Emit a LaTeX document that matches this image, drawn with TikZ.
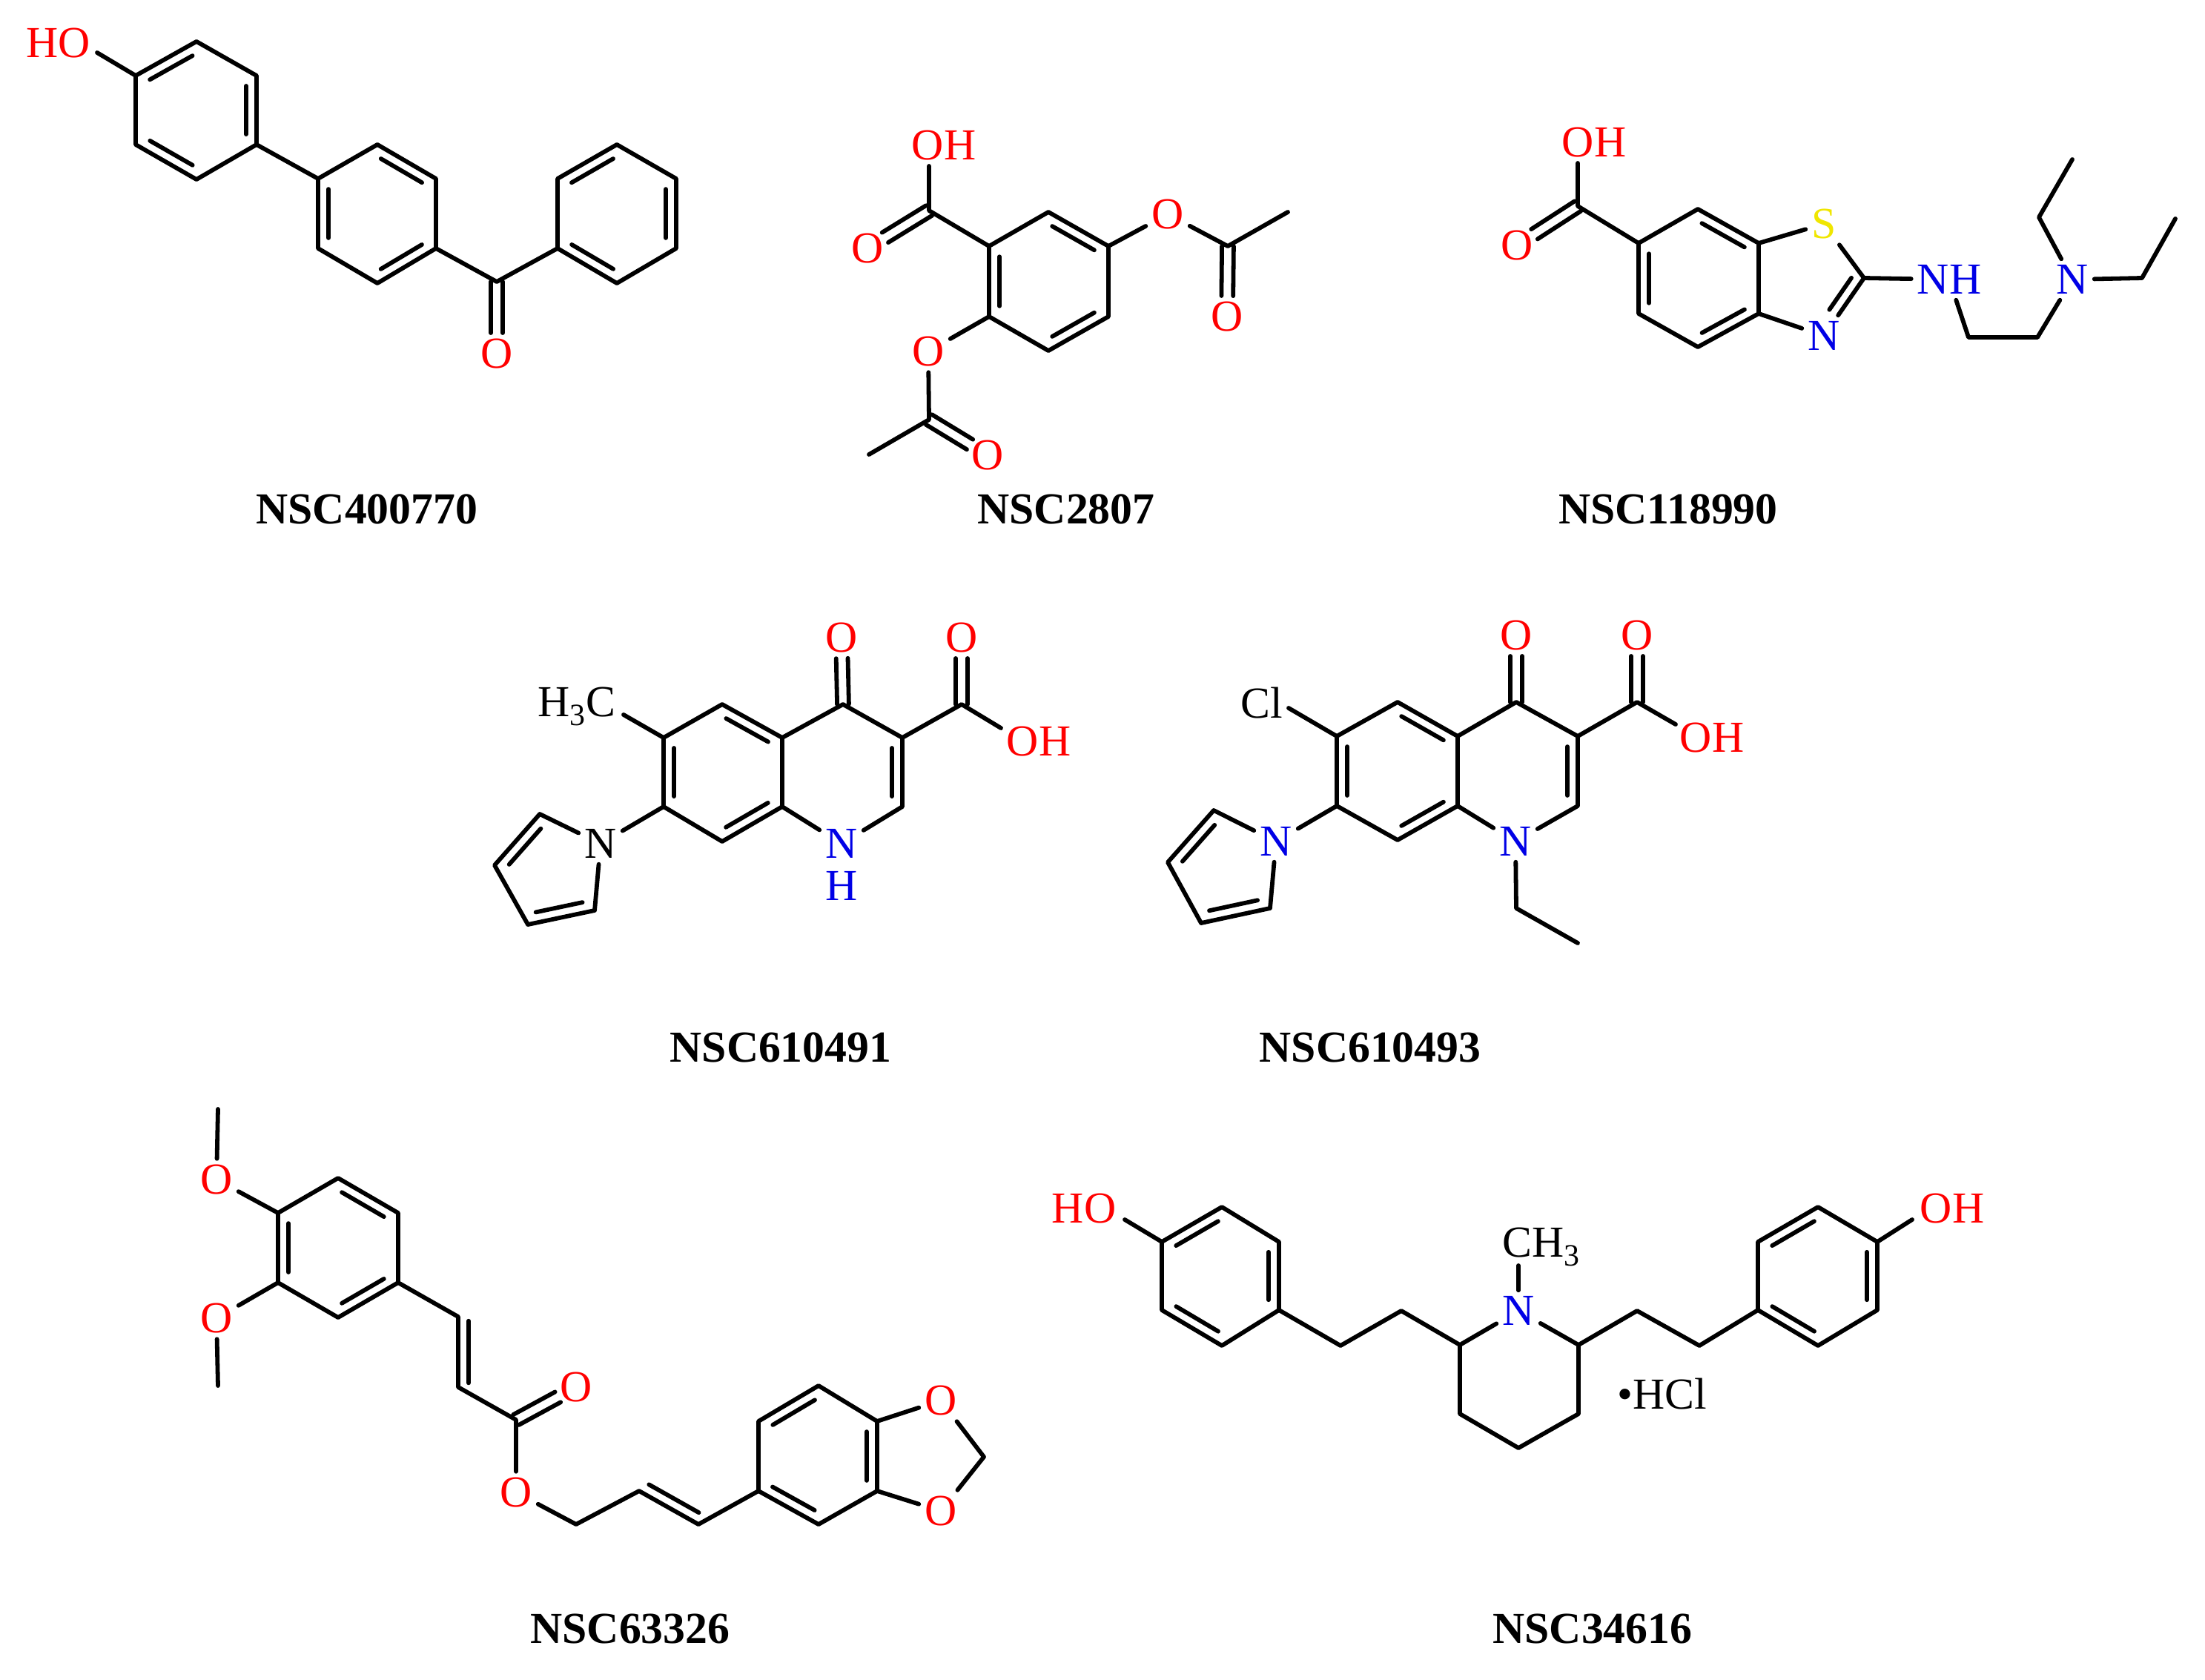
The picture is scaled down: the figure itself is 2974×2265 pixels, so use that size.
\documentclass[tikz,border=0pt]{standalone}
\usepackage{fontspec}
\setmainfont{Liberation Serif}
\usetikzlibrary{calc}
\definecolor{ored}{RGB}{255,0,0}
\definecolor{nblue}{RGB}{0,0,230}
\definecolor{syel}{RGB}{240,230,0}
\newcommand\rdb[3][-8pt]{\draw ($(#2)!0.15!(#3)!#1!90:(#3)$) -- ($(#3)!0.15!(#2)!#1!-90:(#2)$);}
\newcommand\rdbf[5]{\draw ($(#1)!#3!(#2)!#5!90:(#2)$) -- ($(#2)!#4!(#1)!#5!-90:(#1)$);}
\newcommand\cdo[2]{\draw[shorten >=0.56cm] ($(#1)!4.5pt!90:(#2)$) -- ($(#2)!4.5pt!-90:(#1)$); \draw[shorten >=0.56cm] ($(#1)!4.5pt!-90:(#2)$) -- ($(#2)!4.5pt!90:(#1)$);}
\begin{document}
\begin{tikzpicture}[x=0.02cm,y=-0.02cm,line width=3.3pt,line cap=round,line join=round,
 atom/.style={inner sep=3pt,font=\fontsize{34}{40}\selectfont},
 ox/.style={atom,text=ored}, nx/.style={atom,text=nblue},
 title/.style={font=\fontsize{34}{40}\selectfont\bfseries}]
\useasboundingbox (0,0) rectangle (2974,2265);
% ---------- NSC400770
\node[ox] (m1ho) at (79,58) {HO};
\coordinate (m1hoe) at (131,71);
\coordinate (a1) at (183,102); \coordinate (a2) at (265,56); \coordinate (a3) at (346,102);
\coordinate (a4) at (346,195); \coordinate (a5) at (265,242); \coordinate (a6) at (183,195);
\coordinate (b1) at (429,241); \coordinate (b2) at (509,195); \coordinate (b3) at (588,241);
\coordinate (b4) at (588,335); \coordinate (b5) at (509,382); \coordinate (b6) at (429,335);
\coordinate (c1) at (752,241); \coordinate (c2) at (832,195); \coordinate (c3) at (912,241);
\coordinate (c4) at (912,335); \coordinate (c5) at (832,382); \coordinate (c6) at (752,335);
\coordinate (k) at (670,380);
\node[ox] (m1o) at (670,477) {O};
\draw (m1hoe) -- (a1);
\draw (a1) -- (a2) -- (a3) -- (a4) -- (a5) -- (a6) -- cycle;
\draw (b1) -- (b2) -- (b3) -- (b4) -- (b5) -- (b6) -- cycle;
\draw (c1) -- (c2) -- (c3) -- (c4) -- (c5) -- (c6) -- cycle;
\draw (a4) -- (b1); \draw (b4) -- (k) -- (c6);
\rdb{a1}{a2} \rdb{a3}{a4} \rdb{a5}{a6}
\rdb{b2}{b3} \rdb{b4}{b5} \rdb{b6}{b1}
\rdb{c1}{c2} \rdb{c3}{c4} \rdb{c5}{c6}
\cdo{k}{m1o}
\node[title] (t1) at (495,687) {NSC400770};
% ---------- NSC2807
\node[ox] (m2oh) at (1273,196) {OH};
\coordinate (m2ohe) at (1253,224);
\coordinate (m2c) at (1253,284);
\node[ox] (m2o1) at (1170,335) {O};
\coordinate (r1) at (1334,332); \coordinate (r2) at (1414,286); \coordinate (r3) at (1495,332);
\coordinate (r4) at (1495,427); \coordinate (r5) at (1414,473); \coordinate (r6) at (1334,427);
\node[ox] (m2o2) at (1575,289) {O};
\coordinate (m2a) at (1656,332); \coordinate (m2m) at (1737,286);
\node[ox] (m2o3) at (1655,427) {O};
\node[ox] (m2o4) at (1252,474) {O};
\coordinate (m2b) at (1253,566); \coordinate (m2n) at (1172,613);
\node[ox] (m2o5) at (1332,614) {O};
\draw (r1) -- (r2) -- (r3) -- (r4) -- (r5) -- (r6) -- cycle;
\rdb{r2}{r3} \rdb{r4}{r5} \rdb{r6}{r1}
\draw (r1) -- (m2c) -- (m2ohe);
\cdo{m2c}{m2o1}
\draw (r3) -- (m2o2) -- (m2a) -- (m2m);
\cdo{m2a}{m2o3}
\draw (r6) -- (m2o4) -- (m2b) -- (m2n);
\cdo{m2b}{m2o5}
\node[title] (t2) at (1438,687) {NSC2807};
% ---------- NSC118990
\node[ox] (m3oh) at (2150,192) {OH};
\coordinate (m3ohe) at (2128,220);
\coordinate (m3c) at (2128,278);
\node[ox] (m3o1) at (2046,331) {O};
\coordinate (s1) at (2210,328); \coordinate (s2) at (2290,282); \coordinate (s3) at (2372,328);
\coordinate (s4) at (2372,423); \coordinate (s5) at (2290,468); \coordinate (s6) at (2210,423);
\node[atom,text=syel] (m3s) at (2460,302) {S};
\coordinate (m3c2) at (2514,375);
\node[nx] (m3n3) at (2460,453) {N};
\node[nx] (m3nh) at (2629,377) {NH};
\coordinate (m3e1) at (2655,455); \coordinate (m3e2) at (2748,455);
\node[nx] (m3n) at (2795,377) {N};
\coordinate (m3u1) at (2750,293); \coordinate (m3u2) at (2795,215);
\coordinate (m3v1) at (2889,375); \coordinate (m3v2) at (2934,295);
\draw (s1) -- (s2) -- (s3) -- (s4) -- (s5) -- (s6) -- cycle;
\rdb{s2}{s3} \rdb{s4}{s5} \rdb{s6}{s1}
\draw (s1) -- (m3c) -- (m3ohe);
\cdo{m3c}{m3o1}
\draw (s3) -- (m3s) -- (m3c2) -- (m3n3) -- (s4);
\rdbf{m3c2}{m3n3}{0.1}{0.35}{-8pt}
\draw (m3c2) -- (m3nh) -- (m3e1) -- (m3e2) -- (m3n);
\draw (m3n) -- (m3u1) -- (m3u2);
\draw (m3n) -- (m3v1) -- (m3v2);
\node[title] (t3) at (2250,687) {NSC118990};
% ---------- NSC610491
\node[atom] (m4me) at (778,953) {H\textsubscript{3}C};
\coordinate (m4mee) at (841,964);
\coordinate (p6) at (895,995); \coordinate (p5) at (974,950); \coordinate (p4a) at (1055,995);
\coordinate (p8a) at (1055,1088); \coordinate (p8) at (974,1135); \coordinate (p7) at (895,1088);
\coordinate (p4) at (1137,950); \coordinate (p3) at (1217,995); \coordinate (p2) at (1217,1088);
\node[nx] (m4n1) at (1135,1138) {N};
\node[nx,inner sep=0pt] (m4h) at (1135,1195) {H};
\node[ox] (m4o4) at (1135,860) {O};
\coordinate (m4cc) at (1297,950);
\node[ox] (m4o5) at (1297,860) {O};
\node[ox] (m4oh) at (1401,1000) {OH};
\coordinate (m4ohe) at (1350,982);
\node[atom] (m4np) at (810,1138) {N};
\coordinate (q1) at (728,1098); \coordinate (q2) at (667,1167); \coordinate (q3) at (712,1247); \coordinate (q4) at (802,1228);
\draw (p6) -- (p5) -- (p4a) -- (p8a) -- (p8) -- (p7) -- cycle;
\rdb{p5}{p4a} \rdb{p8a}{p8} \rdb{p7}{p6}
\draw (p4a) -- (p4) -- (p3) -- (p2) -- (m4n1) -- (p8a);
\rdb{p3}{p2}
\cdo{p4}{m4o4}
\draw (p3) -- (m4cc) -- (m4ohe);
\cdo{m4cc}{m4o5}
\draw (m4mee) -- (p6);
\draw (p7) -- (m4np) -- (q1) -- (q2) -- (q3) -- (q4) -- (m4np);
\rdb{q2}{q1} \rdb{q4}{q3}
\node[title] (t4) at (1053,1413) {NSC610491};
% ---------- NSC610493
\node[atom] (m5cl) at (1702,948) {Cl};
\coordinate (m5cle) at (1738,955);
\coordinate (w6) at (1803,993); \coordinate (w5) at (1885,947); \coordinate (w4a) at (1966,993);
\coordinate (w8a) at (1966,1087); \coordinate (w8) at (1885,1133); \coordinate (w7) at (1803,1087);
\coordinate (w4) at (2045,947); \coordinate (w3) at (2128,993); \coordinate (w2) at (2128,1087);
\node[nx] (m5n1) at (2044,1135) {N};
\coordinate (m5e1) at (2045,1225); \coordinate (m5e2) at (2128,1272);
\node[ox] (m5o4) at (2045,857) {O};
\coordinate (m5cc) at (2208,947);
\node[ox] (m5o5) at (2208,857) {O};
\node[ox] (m5oh) at (2309,995) {OH};
\coordinate (m5ohe) at (2260,977);
\node[nx] (m5np) at (1721,1135) {N};
\coordinate (u1) at (1637,1093); \coordinate (u2) at (1575,1163); \coordinate (u3) at (1620,1245); \coordinate (u4) at (1713,1225);
\draw (w6) -- (w5) -- (w4a) -- (w8a) -- (w8) -- (w7) -- cycle;
\rdb{w5}{w4a} \rdb{w8a}{w8} \rdb{w7}{w6}
\draw (w4a) -- (w4) -- (w3) -- (w2) -- (m5n1) -- (w8a);
\rdb{w3}{w2}
\cdo{w4}{m5o4}
\draw (w3) -- (m5cc) -- (m5ohe);
\cdo{m5cc}{m5o5}
\draw (m5cle) -- (w6);
\draw (m5n1) -- (m5e1) -- (m5e2);
\draw (w7) -- (m5np) -- (u1) -- (u2) -- (u3) -- (u4) -- (m5np);
\rdb{u2}{u1} \rdb{u4}{u3}
\node[title] (t5) at (1848,1413) {NSC610493};
% ---------- NSC63326
\coordinate (m6m1) at (294,1496);
\node[ox] (m6o1) at (292,1591) {O};
\node[ox] (m6o2) at (292,1778) {O};
\coordinate (m6m2) at (294,1869);
\coordinate (g1) at (375,1636); \coordinate (g2) at (456,1589); \coordinate (g3) at (537,1636);
\coordinate (g4) at (537,1730); \coordinate (g5) at (456,1777); \coordinate (g6) at (375,1730);
\coordinate (va) at (618,1776); \coordinate (vb) at (618,1871); \coordinate (vc) at (696,1915);
\node[ox] (m6o3) at (777,1871) {O};
\node[ox] (m6o4) at (696,2013) {O};
\coordinate (vd) at (777,2056); \coordinate (ve) at (862,2011); \coordinate (vf) at (942,2056);
\coordinate (h1) at (1023,1917); \coordinate (h2) at (1104,1869); \coordinate (h3) at (1183,1917);
\coordinate (h4) at (1183,2011); \coordinate (h5) at (1104,2056); \coordinate (h6) at (1023,2011);
\node[ox] (m6o5) at (1269,1889) {O};
\node[ox] (m6o6) at (1269,2038) {O};
\coordinate (m6ch) at (1327,1965);
\draw (m6m1) -- (m6o1) -- (g1); \draw (g6) -- (m6o2) -- (m6m2);
\draw (g1) -- (g2) -- (g3) -- (g4) -- (g5) -- (g6) -- cycle;
\rdb{g2}{g3} \rdb{g4}{g5} \rdb{g6}{g1}
\draw (g4) -- (va) -- (vb) -- (vc) -- (m6o4) -- (vd) -- (ve) -- (vf) -- (h6);
\rdbf{va}{vb}{0.06}{0.06}{8pt}
\rdbf{ve}{vf}{0.08}{0.08}{8pt}
\cdo{vc}{m6o3}
\draw (h1) -- (h2) -- (h3) -- (h4) -- (h5) -- (h6) -- cycle;
\rdb{h1}{h2} \rdb{h3}{h4} \rdb{h5}{h6}
\draw (h3) -- (m6o5) -- (m6ch) -- (m6o6) -- (h4);
\node[title] (t6) at (850,2197) {NSC63326};
% ---------- NSC34616
\node[ox] (m7ho) at (1462,1630) {HO};
\coordinate (m7hoe) at (1517,1645);
\coordinate (L1) at (1567,1675); \coordinate (L2) at (1648,1628); \coordinate (L3) at (1725,1675);
\coordinate (L4) at (1725,1767); \coordinate (L5) at (1648,1815); \coordinate (L6) at (1567,1767);
\coordinate (x1) at (1808,1815); \coordinate (x2) at (1890,1768);
\coordinate (pc2) at (1969,1814);
\node[nx] (m7n) at (2048,1768) {N};
\coordinate (pc6) at (2129,1814); \coordinate (pc5) at (2129,1907); \coordinate (pc4) at (2048,1953); \coordinate (pc3) at (1969,1907);
\node[atom] (m7me) at (2079,1682) {CH\textsubscript{3}};
\coordinate (m7mee) at (2048,1707);
\coordinate (y1) at (2208,1768); \coordinate (y2) at (2292,1815);
\coordinate (R1) at (2371,1675); \coordinate (R2) at (2452,1628); \coordinate (R3) at (2532,1675);
\coordinate (R4) at (2532,1767); \coordinate (R5) at (2452,1815); \coordinate (R6) at (2371,1767);
\node[ox] (m7oh) at (2633,1630) {OH};
\coordinate (m7ohe) at (2579,1645);
\draw (m7hoe) -- (L1);
\draw (L1) -- (L2) -- (L3) -- (L4) -- (L5) -- (L6) -- cycle;
\rdb{L1}{L2} \rdb{L3}{L4} \rdb{L5}{L6}
\draw (L4) -- (x1) -- (x2) -- (pc2) -- (m7n) -- (pc6) -- (pc5) -- (pc4) -- (pc3) -- (pc2);
\draw (m7n) -- (m7mee);
\draw (pc6) -- (y1) -- (y2) -- (R6);
\draw (R1) -- (R2) -- (R3) -- (R4) -- (R5) -- (R6) -- cycle;
\rdb{R1}{R2} \rdb{R3}{R4} \rdb{R5}{R6}
\draw (R3) -- (m7ohe);
\node[atom] (m7hcl) at (2242,1880) {•HCl};
\node[title] (t7) at (2148,2197) {NSC34616};
\end{tikzpicture}
\end{document}
